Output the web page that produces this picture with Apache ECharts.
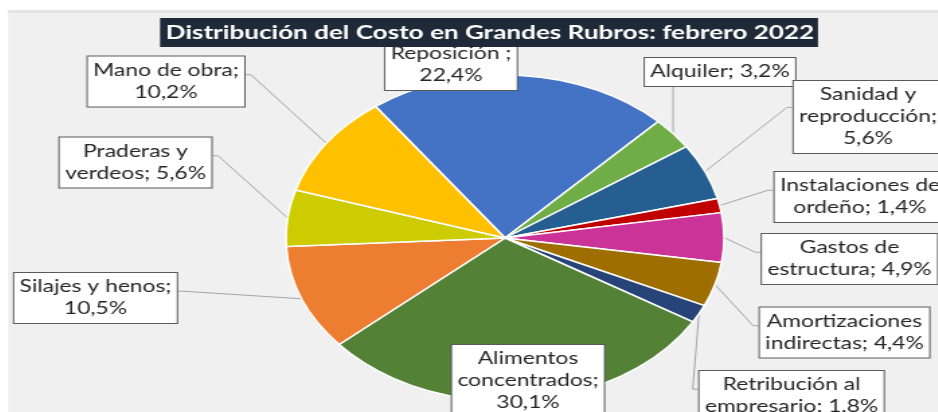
<!DOCTYPE html>
<html>
<head>
<meta charset="utf-8">
<script src="https://cdn.jsdelivr.net/npm/echarts@6/dist/echarts.min.js"></script>
<style>
html,body{margin:0;padding:0;width:938px;height:412px;overflow:hidden;background:#ffffff;}
#wrap{position:absolute;left:0;top:0;width:938px;height:412px;overflow:hidden;}
#chart{position:absolute;left:0;top:0;width:938px;height:412px;transform:scaleX(1.344);transform-origin:505px 0;}
</style>
</head>
<body>
<div id="wrap"><div id="chart"></div></div>
<script>
// ---- data ----
const titleText = 'Distribución del Costo en Grandes Rubros: febrero 2022';
const categories = ['Reposición ', 'Alquiler', 'Sanidad y\nreproducción', 'Instalaciones de\nordeño',
  'Gastos de\nestructura', 'Amortizaciones\nindirectas', 'Retribución al\nempresario',
  'Alimentos\nconcentrados', 'Silajes y henos', 'Praderas y\nverdeos', 'Mano de obra'];
const values = [22.4, 3.2, 5.6, 1.4, 4.9, 4.4, 1.8, 30.1, 10.5, 5.6, 10.2];
const valueOnNewLine = [true, false, true, false, false, false, false, true, true, false, true];

// ---- styles / layout ----
const colors = ['#4472C4', '#70AD47', '#255E91', '#C00000', '#CC3399', '#9E6F00', '#264478',
  '#538135', '#ED7D31', '#CCCC00', '#FFC000'];
const S = 1.344;           // horizontal stretch of the reference picture
const CX = 505, CY = 238;  // pie centre
const toPre = x => CX + (x - CX) / S;
// label box centres (picture px) and leader attach side
const labelBoxes = [
  [451, 65, 'none'], [720, 72, 'bottom'], [868, 117, 'left'], [860, 197, 'left'],
  [849.5, 259, 'left'], [844.5, 332.5, 'left'], [791.5, 396, 'left'], [528, 381, 'none'],
  [95.5, 298, 'right'], [135.5, 162.5, 'right'], [166, 81.5, 'right']
];

const fmt = v => v.toFixed(1).replace('.', ',') + '%';

const data = categories.map((c, i) => ({
  name: c,
  value: values[i],
  itemStyle: { color: colors[i] },
  labelLine: { show: labelBoxes[i][2] !== 'none' }
}));

const chart = echarts.init(document.getElementById('chart'), null, { renderer: 'canvas' });
chart.setOption({
  backgroundColor: '#ffffff',
  animation: false,
  graphic: [
    { type: 'rect', z: -10, shape: { x: toPre(8), y: 10, width: 900, height: 420 }, style: { fill: '#F0F0F0' } },
    { type: 'rect', z: -9, shape: { x: toPre(8), y: 10, width: 900, height: 3 }, style: { fill: '#E4E4E4' } },
    { type: 'rect', z: 100, shape: { x: toPre(160), y: 18, width: (818 - 160) / S, height: 29 }, style: { fill: '#1E2A38' } },
    { type: 'text', z: 101, x: toPre(490), y: 33,
      style: { text: titleText, fill: '#ffffff', font: 'bold 19.4px Lato', align: 'center', verticalAlign: 'middle', textAlign: 'center', textVerticalAlign: 'middle' } }
  ],
  series: [{
    type: 'pie',
    center: [CX, CY],
    radius: 163,
    startAngle: 126.2,
    clockwise: true,
    avoidLabelOverlap: false,
    itemStyle: { borderColor: '#ffffff', borderWidth: 1.5 },
    label: {
      show: true,
      position: 'outside',
      formatter: p => p.name + (valueOnNewLine[p.dataIndex] ? ';\n' : '; ') + fmt(p.value),
      fontFamily: 'Lato',
      fontSize: 17,
      lineHeight: 22,
      color: '#262626',
      align: 'center',
      backgroundColor: '#ffffff',
      borderColor: '#595959',
      borderWidth: 1,
      padding: [3, 4]
    },
    labelLine: { show: true, length: 10, length2: 10, lineStyle: { color: '#A6A6A6', width: 1 } },
    labelLayout: function (p) {
      const b = labelBoxes[p.dataIndex];
      const x = toPre(b[0]), y = b[1];
      const w = p.labelRect.width, h = p.labelRect.height;
      const res = { x: x, y: y, align: 'center', verticalAlign: 'middle' };
      const pts = p.labelLinePoints;
      if (b[2] !== 'none' && pts && pts.length) {
        const s = pts[0];
        const ya = y - h / 2 + h * 0.37;
        if (b[2] === 'bottom') {
          const e = [s[0], y + h / 2];
          res.labelLinePoints = [s, e, e];
        } else if (b[2] === 'left') {
          const e = [x - w / 2, ya];
          res.labelLinePoints = [s, [e[0] - 4, ya], e];
        } else {
          const e = [x + w / 2, ya];
          res.labelLinePoints = [s, [e[0] + 4, ya], e];
        }
      }
      return res;
    },
    data: data
  }]
});
</script>
</body>
</html>
